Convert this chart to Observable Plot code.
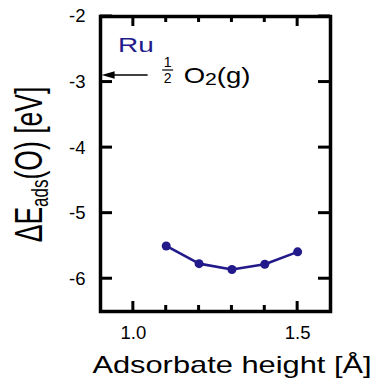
<!DOCTYPE html>
<html><head><meta charset="utf-8">
<script src="https://cdn.jsdelivr.net/npm/d3@7"></script>
<script src="https://cdn.jsdelivr.net/npm/@observablehq/plot@0.6"></script>
<style>body{margin:0;background:#fff}</style>
</head><body><div id="chart"></div>
<script>
// Data
const heights = [1.1, 1.2, 1.3, 1.4, 1.5];
const energies = [-5.50, -5.77, -5.86, -5.78, -5.59];
const xMajorTicks = [1.0, 1.5];
const xMinorTicks = [1.1, 1.2, 1.3, 1.4];
const yTicks = [-2, -3, -4, -5, -6];
const o2Energy = -2.9;           // ½ O2(g) reference level
const arrowFrom = 1.045, arrowTo = 0.905;
const seriesLabel = "Ru";
const xLabel = "Adsorbate height [Å]";

const data = heights.map((h, i) => ({h, e: energies[i]}));
const navy = "#221a8a";
const font = "'Liberation Sans', Arial, sans-serif";

function annotations(index, scales, values, dim) {
  const g = d3.create("svg:g").attr("font-family", font).attr("fill", "black")
    .attr("text-anchor", "start");
  const x = scales.x, y = scales.y;
  const left = dim.marginLeft, top = dim.marginTop;
  const right = dim.width - dim.marginRight, bottom = dim.height - dim.marginBottom;

  // inward ticks, placed through the x / y scales
  const seg = (x1, y1, x2, y2) => g.append("line")
    .attr("x1", x1).attr("y1", y1).attr("x2", x2).attr("y2", y2)
    .attr("stroke", "black").attr("stroke-width", 3);
  for (const v of xMajorTicks) { seg(x(v), bottom, x(v), bottom - 10); seg(x(v), top, x(v), top + 10); }
  for (const v of xMinorTicks) { seg(x(v), bottom, x(v), bottom - 6); seg(x(v), top, x(v), top + 6); }
  for (const v of yTicks) { seg(left, y(v), left + 12, y(v)); seg(right, y(v), right - 12, y(v)); }

  // Series label
  g.append("text").text(seriesLabel).attr("fill", navy).attr("font-size", 20)
    .attr("transform", `translate(${left + 18},${top + 36}) scale(1.4,1)`);

  // Arrow to ½ O2(g)
  const ay = y(o2Energy), ax1 = x(arrowFrom), ax2 = x(arrowTo);
  g.append("line").attr("x1", ax1).attr("x2", ax2 + 10).attr("y1", ay).attr("y2", ay)
    .attr("stroke", "black").attr("stroke-width", 1.6);
  g.append("path").attr("d", `M${ax2},${ay}L${ax2 + 13},${ay - 3.8}L${ax2 + 13},${ay + 3.8}Z`).attr("fill", "black");

  // Fraction 1/2
  const fx = ax1 + 20;
  g.append("text").text("1").attr("font-size", 14).attr("text-anchor", "middle")
    .attr("x", fx).attr("y", ay - 8);
  g.append("line").attr("x1", fx - 5.5).attr("x2", fx + 5.5).attr("y1", ay - 5).attr("y2", ay - 5)
    .attr("stroke", "black").attr("stroke-width", 1.2);
  g.append("text").text("2").attr("font-size", 14).attr("text-anchor", "middle")
    .attr("x", fx).attr("y", ay + 8);
  const t = g.append("text").attr("font-size", 22)
    .attr("transform", `translate(${fx + 16},${ay + 8}) scale(1.25,1)`);
  t.append("tspan").text("O");
  t.append("tspan").text("2").attr("font-size", 17).attr("dy", 2);
  t.append("tspan").text("(g)").attr("dy", -2);

  // X axis label
  g.append("text").text(xLabel).attr("font-size", 23).attr("text-anchor", "middle")
    .attr("transform", `translate(${(left + right) / 2 + 17},${bottom + 62}) scale(1.34,1)`);

  // Y axis label
  const yl = g.append("text").attr("font-size", 26.5).attr("text-anchor", "middle")
    .attr("transform", `translate(42,${(top + bottom) / 2 + 1}) rotate(-90) scale(1,1.43)`);
  yl.append("tspan").text("ΔE");
  yl.append("tspan").text("ads").attr("font-size", 17).attr("dy", 4.5);
  yl.append("tspan").text("(O) [eV]").attr("dy", -4.5);
  return g.node();
}

const chart = Plot.plot({
  width: 378,
  height: 387,
  marginLeft: 100,
  marginRight: 48,
  marginTop: 16,
  marginBottom: 76,
  x: {domain: [0.9, 1.6], axis: null},
  y: {domain: [-6.5, -2], axis: null},
  marks: [
    Plot.frame({stroke: "black", fill: "none", strokeWidth: 3.5}),
    Plot.line(data, {x: "h", y: "e", stroke: navy, strokeWidth: 2.6}),
    Plot.dot(data, {x: "h", y: "e", fill: navy, r: 4.5}),
    // tick labels
    Plot.text(xMajorTicks, {x: d => d, frameAnchor: "bottom", lineAnchor: "top", dy: 14,
      text: d => d3.format(".1f")(d), fontSize: 18.5, fontFamily: font, fill: "black"}),
    Plot.text(yTicks, {y: d => d, frameAnchor: "left", textAnchor: "end", dx: -15,
      text: d => String(d), fontSize: 18.5, fontFamily: font, fill: "black"}),
    annotations
  ]
});
document.getElementById("chart").appendChild(chart);
</script>
</body></html>
